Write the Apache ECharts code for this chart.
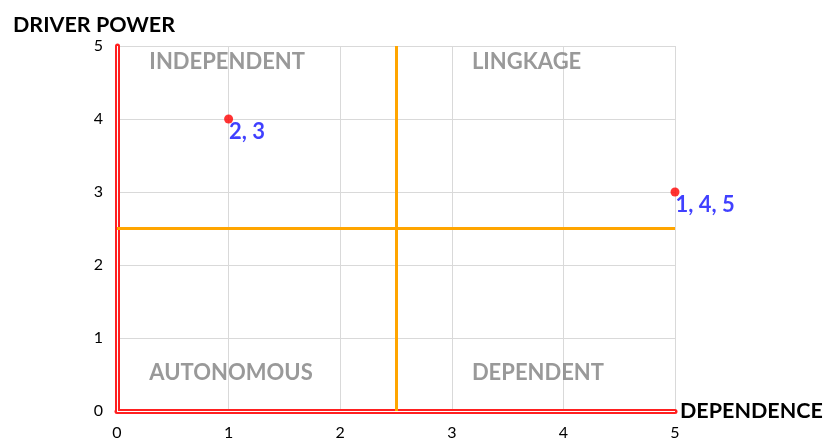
<!DOCTYPE html>
<html>
<head>
<meta charset="utf-8">
<script src="https://cdn.jsdelivr.net/npm/echarts@6/dist/echarts.min.js"></script>
<style>html,body{margin:0;padding:0;background:#fff}#c{width:825px;height:439px}</style>
</head>
<body>
<div id="c"></div>
<script>
const pointLabels = ['2, 3', '1, 4, 5'];
const dependence = [1, 5];
const driverPower = [4, 3];
const quadrantNames = ['INDEPENDENT', 'LINGKAGE', 'AUTONOMOUS', 'DEPENDENT'];
const quadrantX = [0.29, 3.18, 0.29, 3.18];
const quadrantY = [4.78, 4.78, 0.52, 0.52];
const thresholdDependence = 2.5;
const thresholdDriver = 2.5;
const axisMin = 0, axisMax = 5, axisStep = 1;

const FONT = 'Lato';
const chart = echarts.init(document.getElementById('c'), null, {renderer: 'canvas'});
chart.setOption({
  animation: false,
  backgroundColor: '#ffffff',
  grid: {left: 117, right: 150, top: 46, bottom: 28, containLabel: false, outerBoundsMode: 'none'},
  xAxis: {
    type: 'value', min: axisMin, max: axisMax, interval: axisStep,
    name: 'DEPENDENCE', nameLocation: 'end', nameGap: 5,
    nameTextStyle: {fontFamily: FONT, fontWeight: 'bold', fontSize: 21.5, color: '#000', align: 'left', verticalAlign: 'middle'},
    axisLine: {show: true, onZero: false, lineStyle: {color: '#ff2020', width: 5}},
    axisTick: {show: false},
    splitLine: {show: true, lineStyle: {color: '#d9d9d9', width: 1}},
    axisLabel: {fontFamily: FONT, fontSize: 16, color: '#000', margin: 14}
  },
  yAxis: {
    type: 'value', min: axisMin, max: axisMax, interval: axisStep,
    name: 'DRIVER POWER', nameLocation: 'end', nameGap: 10,
    nameTextStyle: {fontFamily: FONT, fontWeight: 'bold', fontSize: 21.5, color: '#000', align: 'center', padding: [0, 46, 0, 0]},
    axisLine: {show: true, onZero: false, lineStyle: {color: '#ff2020', width: 5}},
    axisTick: {show: false},
    splitLine: {show: true, lineStyle: {color: '#d9d9d9', width: 1}},
    axisLabel: {fontFamily: FONT, fontSize: 16, color: '#000', margin: 14}
  },
  series: [
    {
      type: 'scatter', z: 3,
      data: [],
      silent: true,
      markLine: {
        silent: true, symbol: 'none', label: {show: false},
        lineStyle: {color: '#ffffff', width: 1, type: 'solid'},
        data: [{xAxis: axisMin}, {yAxis: axisMin}]
      }
    },
    {
      type: 'scatter', z: 2,
      data: [],
      silent: true,
      markLine: {
        silent: true, symbol: 'none', label: {show: false},
        lineStyle: {color: '#ffa500', width: 3, type: 'solid'},
        data: [{xAxis: thresholdDependence}, {yAxis: thresholdDriver}]
      }
    },
    {
      type: 'scatter', z: 4,
      symbolSize: 0.1,
      data: quadrantNames.map((n, i) => ({value: [quadrantX[i], quadrantY[i]], name: n})),
      label: {
        show: true, position: 'inside', formatter: p => p.name,
        align: 'left', verticalAlign: 'middle',
        fontFamily: FONT, fontWeight: 'bold', fontSize: 22, color: '#7f7f7f'
      }
    },
    {
      type: 'scatter', z: 5,
      symbol: 'circle', symbolSize: 9,
      itemStyle: {color: '#ff0000'},
      data: dependence.map((x, i) => ({value: [x, driverPower[i]], name: pointLabels[i]})),
      label: {
        show: true, position: 'right', distance: 0, offset: [-4, 13],
        formatter: p => p.name,
        fontFamily: FONT, fontWeight: 'bold', fontSize: 22, color: '#1010ff'
      }
    }
  ]
});
</script>
</body>
</html>
